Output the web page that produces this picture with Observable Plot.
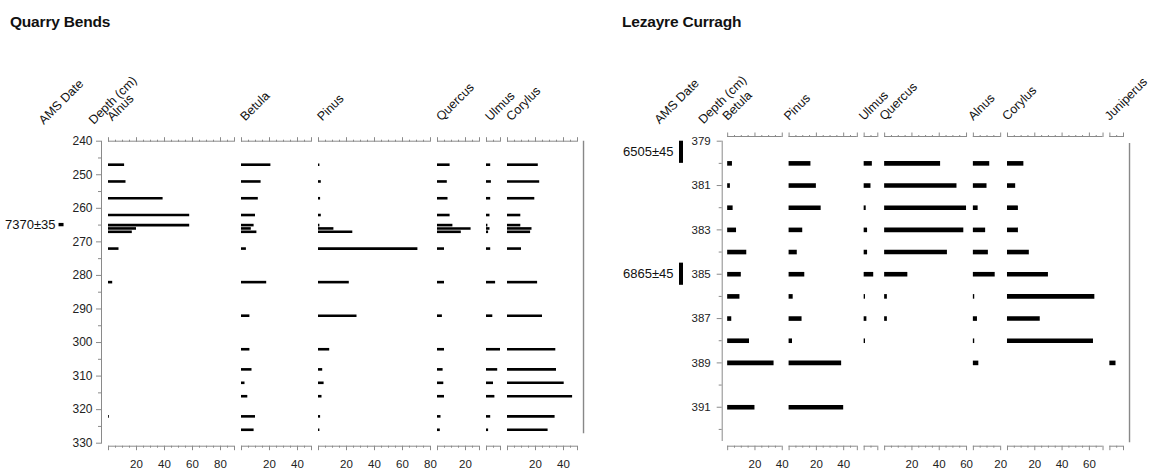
<!DOCTYPE html>
<html><head><meta charset="utf-8">
<script src="https://cdn.jsdelivr.net/npm/d3@7"></script>
<script src="https://cdn.jsdelivr.net/npm/@observablehq/plot@0.6"></script>
<style>
body{margin:0;background:#fff;font-family:"Liberation Sans",Arial,sans-serif;}
#wrap{position:relative;width:1149px;height:473px;overflow:hidden;background:#fff;}
.title{position:absolute;top:13px;font-weight:bold;font-size:15.5px;color:#111;letter-spacing:-0.2px;}
#left{position:absolute;left:0;top:0;}
#right{position:absolute;left:580px;top:0;}
svg{overflow:visible;}
</style></head><body>
<div id="wrap">
<div id="left"></div><div id="right"></div>
<div class="title" style="left:10px">Quarry Bends</div>
<div class="title" style="left:622px">Lezayre Curragh</div>
</div>
<script>
// ---------- Quarry Bends ----------
const qbDepths = [247, 252, 257, 262, 265, 266, 267, 272, 282, 292, 302, 308, 312, 316, 322, 326];
const qbTaxa = ["Alnus", "Betula", "Pinus", "Quercus", "Ulmus", "Corylus"];
const qbAxisMax = [90, 50, 80, 30, 10, 50];
const qbAlnus   = [11.5, 12.5, 39, 58, 58, 20, 17, 7.5, 3, 0, 0, 0, 0, 0, 0.6, 0];
const qbBetula  = [21, 14, 12, 10, 9, 7, 11, 3.5, 18, 6, 6, 7.5, 2.5, 4.5, 10, 9];
const qbPinus   = [1, 2, 1.5, 2, 1, 11, 24.5, 71, 22, 27.5, 8, 3, 4, 2.5, 1.5, 1];
const qbQuercus = [9, 7, 7.5, 9, 11, 24, 17, 5, 5, 3.5, 5, 4, 4.5, 5, 2.5, 2];
const qbUlmus   = [3, 3.5, 3, 2.5, 1, 2.5, 1.5, 3, 6.5, 4.5, 10, 8, 5, 6, 3, 1.5];
const qbCorylus = [22, 23, 19.5, 9.5, 9.5, 17.5, 16.5, 10, 21.5, 25, 34.5, 35, 40.5, 46.5, 34, 29];
const qbDepthTicks = [240, 250, 260, 270, 280, 290, 300, 310, 320, 330];
const qbDateDepths = [265];
const qbDateLabels = ["7370±35"];

// ---------- Lezayre Curragh ----------
const lcDepths = [380, 381, 382, 383, 384, 385, 386, 387, 388, 389, 391];
const lcTaxa = ["Betula", "Pinus", "Ulmus", "Quercus", "Alnus", "Corylus", "Juniperus"];
const lcAxisMax = [40, 50, 10, 60, 20, 70, 10];
const lcBetula    = [3.5, 2, 4, 6.5, 14, 10, 9, 3, 16, 34, 20];
const lcPinus     = [16, 20, 23.5, 10, 6, 11.5, 3, 9.5, 2.5, 38.5, 40];
const lcUlmus     = [6, 5, 1.5, 2.5, 2.5, 7, 1, 2, 1, 0, 0];
const lcQuercus   = [41, 53, 60, 58, 46, 17, 2, 2, 0, 0, 0];
const lcAlnus     = [12, 10, 3.5, 9, 11, 16, 1, 3, 1, 4, 0];
const lcCorylus   = [12, 6, 8, 8, 16, 30, 64, 24, 63, 0, 0];
const lcJuniperus = [0, 0, 0, 0, 0, 0, 0, 0, 0, 4.5, 0];
const lcDepthTicks = [379, 381, 383, 385, 387, 389, 391];
const lcDateDepths = [379.5, 385];
const lcDateLabels = ["6505±45", "6865±45"];

function pollenPlot(s, L) {
  const gap = 5;
  const offsets = [];
  let acc = 0;
  s.axisMax.forEach(m => { offsets.push(acc); acc += m + gap; });
  const total = acc - gap;
  const panels = s.taxa.map((t, i) => ({taxon: t, x1: offsets[i], x2: offsets[i] + s.axisMax[i]}));
  const bars = [];
  s.taxa.forEach((t, i) => s.values[i].forEach((v, j) => {
    if (v > 0) bars.push({taxon: t, depth: s.depths[j], x1: offsets[i], x2: offsets[i] + v});
  }));
  const major = [], minor = [], labelMap = new Map();
  panels.forEach((p, i) => {
    const m = s.axisMax[i];
    for (let v = 0; v <= m; v += 5) {
      const g = p.x1 + v;
      if (v === 0 || v === m || v % 20 === 0) major.push(g); else minor.push(g);
      if (v > 0 && v % 20 === 0) labelMap.set(g, String(v));
    }
  });
  const dates = s.dateDepths.map((d, i) => ({depth: d, label: s.dateLabels[i]}));
  const d0 = s.depthDomain[0], d1 = s.depthDomain[1];
  const minorDepth = [];
  for (let d = d0; d <= d1 + 1e-9; d += s.depthStep) if (!s.depthTicks.includes(d)) minorDepth.push(d);
  const plotW = (total + L.pad) * L.k;
  const mr = L.width - L.ml - plotW;
  const grey = "#8a8a8a";
  return Plot.plot({
    width: L.width, height: 473,
    marginLeft: L.ml, marginRight: mr, marginTop: L.mt, marginBottom: L.mb,
    x: {domain: [-L.pad, total]},
    y: {domain: [d0, d1], reverse: true},
    style: {fontFamily: "'Liberation Sans', Arial, sans-serif", fontSize: "11px", color: "#222", background: "transparent", overflow: "visible"},
    marks: [
      Plot.frame({anchor: "left", stroke: grey}),
      Plot.axisY({ticks: s.depthTicks, tickSize: 5, tickPadding: L.depthPad, fontSize: L.depthFont, stroke: grey, fill: "#222", label: null, tickFormat: d => String(d)}),
      Plot.axisY({ticks: minorDepth, tickSize: 3, tickFormat: () => "", stroke: grey, label: null}),
      // taxon axes top
      Plot.ruleY(panels, {y: () => d0, x1: "x1", x2: "x2", stroke: grey, dy: L.topDy}),
      Plot.axisX({ticks: major, anchor: "top", tickSize: 4.5, tickFormat: () => "", stroke: grey, label: null, dy: L.topDy}),
      Plot.axisX({ticks: minor, anchor: "top", tickSize: 2, tickFormat: () => "", stroke: grey, label: null, dy: L.topDy}),
      // taxon axes bottom
      Plot.ruleY(panels, {y: () => d1, x1: "x1", x2: "x2", stroke: grey, dy: L.botDy}),
      Plot.axisX({ticks: major, anchor: "bottom", tickSize: 4.5, tickPadding: 9, tickFormat: d => labelMap.get(d) || "", stroke: grey, fill: "#222", fontSize: 11.5, label: null, dy: L.botDy}),
      Plot.axisX({ticks: minor, anchor: "bottom", tickSize: 2, tickFormat: () => "", stroke: grey, label: null, dy: L.botDy}),
      // header labels
      Plot.text(panels, {x: "x1", y: () => d0, text: "taxon", rotate: -45, textAnchor: "start", dy: L.headDy, dx: L.headDx, fontSize: 12.5, fill: "#111"}),
      Plot.text(["AMS Date"], {frameAnchor: "top-left", text: d => d, rotate: -45, textAnchor: "start", dx: L.amsDx, dy: L.headDy, fontSize: 12.5, fill: "#111"}),
      Plot.text(["Depth (cm)"], {frameAnchor: "top-left", text: d => d, rotate: -45, textAnchor: "start", dx: L.depDx, dy: L.headDy, fontSize: 12.5, fill: "#111"}),
      // frame lines (right site)
      ...(L.borders || []).map(b => Plot.ruleX([b], {x: "x", y1: "y1", y2: "y2", stroke: "#888", strokeWidth: 1.4})),
      // pollen bars
      Plot.ruleY(bars, {y: "depth", x1: "x1", x2: "x2", stroke: "#000", strokeWidth: L.barW}),
      // AMS dates
      Plot.ruleX(dates, {x: L.dateX, y1: d => d.depth - 0.5, y2: d => d.depth + 0.5, stroke: "#000", strokeWidth: L.dateW}),
      Plot.text(dates, {x: L.dateX, y: "depth", text: "label", textAnchor: "end", dx: L.dateDx, fontSize: 13, fill: "#111"})
    ]
  });
}

document.getElementById("left").append(pollenPlot({
  taxa: qbTaxa, axisMax: qbAxisMax,
  values: [qbAlnus, qbBetula, qbPinus, qbQuercus, qbUlmus, qbCorylus],
  depths: qbDepths, depthDomain: [240, 330], depthTicks: qbDepthTicks, depthStep: 5,
  dateDepths: qbDateDepths, dateLabels: qbDateLabels
}, {width: 580, ml: 101, k: 1.4, pad: 5, mt: 140.7, mb: 30.3, topDy: 0, botDy: 3,
    headDy: -22.5, headDx: 1, amsDx: -64, depDx: -14, depthPad: 4, depthFont: 12,
    barW: 2.6, dateX: -33.9, dateW: 5, dateDx: -5.5}));

document.getElementById("right").append(pollenPlot({
  taxa: lcTaxa, axisMax: lcAxisMax,
  values: [lcBetula, lcPinus, lcUlmus, lcQuercus, lcAlnus, lcCorylus, lcJuniperus],
  depths: lcDepths, depthDomain: [379, 392.5], depthTicks: lcDepthTicks, depthStep: 1,
  dateDepths: lcDateDepths, dateLabels: lcDateLabels
}, {width: 569, ml: 141.7, k: 1.365, pad: 4, mt: 140.7, mb: 33, topDy: -4.7, botDy: 5.7,
    headDy: -23, headDx: -3, amsDx: -69, depDx: -25, depthPad: 6.5, depthFont: 11.5,
    barW: 4.6, dateX: -34.2, dateW: 4, dateDx: -7.5,
    borders: [{x: -105.6, y1: 379, y2: 392.2}, {x: 294.4, y1: 379.1, y2: 392.6}]}));
</script>
</body></html>
